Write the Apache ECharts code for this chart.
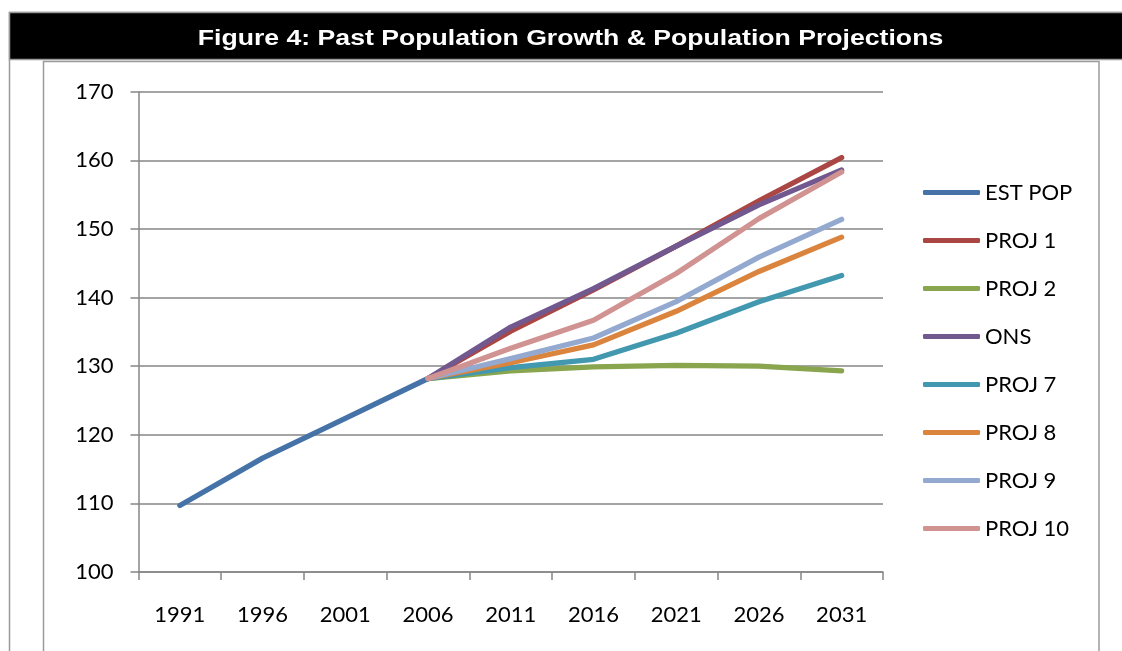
<!DOCTYPE html>
<html>
<head>
<meta charset="utf-8">
<script src="https://cdn.jsdelivr.net/npm/echarts@6/dist/echarts.min.js"></script>
<style>
html,body{margin:0;padding:0;background:#fff;}
#chart{width:1122px;height:651px;}
</style>
</head>
<body>
<div id="chart"></div>
<script>
const titleText = 'Figure 4: Past Population Growth & Population Projections';
const years = ['1991','1996','2001','2006','2011','2016','2021','2026','2031'];
const estPop = [109.7, 116.6, 122.4, 128.2, null, null, null, null, null];
const proj1  = [null, null, null, 128.2, 135.1, 141.1, 147.5, 154.1, 160.4];
const proj2  = [null, null, null, 128.2, 129.3, 129.9, 130.1, 130.0, 129.3];
const ons    = [null, null, null, 128.2, 135.7, 141.3, 147.5, 153.5, 158.6];
const proj7  = [null, null, null, 128.2, 129.8, 131.0, 134.8, 139.4, 143.2];
const proj8  = [null, null, null, 128.2, 130.5, 133.1, 138.0, 143.8, 148.8];
const proj9  = [null, null, null, 128.2, 131.1, 134.1, 139.4, 145.9, 151.4];
const proj10 = [null, null, null, 128.2, 132.6, 136.7, 143.5, 151.5, 158.3];
const seriesNames = ['EST POP','PROJ 1','PROJ 2','ONS','PROJ 7','PROJ 8','PROJ 9','PROJ 10'];
const seriesData = [estPop, proj1, proj2, ons, proj7, proj8, proj9, proj10];
const seriesColors = ['#4572A7','#AA4643','#89A54E','#71588F','#4198AF','#DB843D','#93A9CF','#D19392'];

const chart = echarts.init(document.getElementById('chart'));
const font = 'Lato, "Open Sans", sans-serif';
chart.setOption({
  animation: false,
  backgroundColor: '#fff',
  graphic: [
    {type:'rect', shape:{x:9.5, y:12.5, width:1130, height:660}, style:{fill:'#fff', stroke:'#9a9a9a', lineWidth:1.5}, z:-10},
    {type:'rect', shape:{x:9.5, y:12.5, width:1130, height:47}, style:{fill:'#000', stroke:'#9a9a9a', lineWidth:1.5}, z:-9},
    {type:'rect', shape:{x:43.5, y:61.5, width:1055.5, height:620}, style:{fill:'#fff', stroke:'#9a9a9a', lineWidth:1.5}, z:-8},
    {type:'text', x:570.5, y:38.5, scaleX:1.21, scaleY:1.0, style:{text:titleText, fill:'#fff', font:'bold 22px "Liberation Sans", Arial, sans-serif', align:'center', verticalAlign:'middle'}, z:10}
  ],
  grid: {left:138.5, top:91.7, width:744.5, height:480.3, containLabel:false},
  legend: {
    orient:'vertical', left:923, top:181.5, padding:0, itemWidth:57, itemHeight:5, itemGap:26,
    icon:'roundRect',
    textStyle:{fontFamily:font, fontSize:22, color:'#000', lineHeight:22},
    data: seriesNames
  },
  xAxis: {
    type:'category', data:years, boundaryGap:true,
    axisLine:{show:true, lineStyle:{color:'#868686', width:1.5}},
    axisTick:{show:true, length:8, lineStyle:{color:'#868686', width:1.5}},
    axisLabel:{fontFamily:font, fontSize:22, color:'#000', margin:32, interval:0},
    splitLine:{show:false}
  },
  yAxis: {
    type:'value', min:100, max:170, interval:10,
    axisLine:{show:true, lineStyle:{color:'#868686', width:1.5}},
    axisTick:{show:true, length:8, lineStyle:{color:'#868686', width:1.5}},
    axisLabel:{fontFamily:font, fontSize:22, color:'#000', margin:25},
    splitLine:{show:true, lineStyle:{color:'#868686', width:1.5}}
  },
  series: seriesNames.map((n,i)=>({
    name:n, type:'line', data:seriesData[i], showSymbol:false, symbol:'none',
    connectNulls:false,
    itemStyle:{color:seriesColors[i]},
    lineStyle:{color:seriesColors[i], width:5.3, cap:'round', join:'round'}
  }))
});
</script>
</body>
</html>
